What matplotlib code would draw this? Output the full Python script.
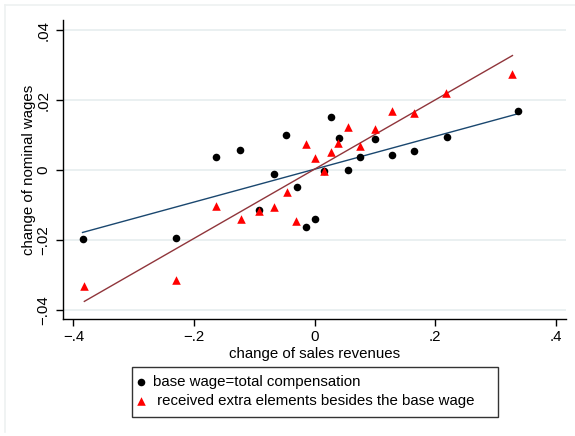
import numpy as np
import matplotlib
matplotlib.use("Agg")
import matplotlib.pyplot as plt
from matplotlib.lines import Line2D
from matplotlib.patches import Rectangle

plt.rcParams['font.family'] = ['Liberation Sans', 'DejaVu Sans']

# firms where the base wage is the total compensation
base_x = [-0.385, -0.2305, -0.164, -0.124, -0.093, -0.068, -0.048, -0.030, -0.015, 0.001,
          0.0154, 0.0265, 0.040, 0.056, 0.0756, 0.0995, 0.128, 0.164, 0.219, 0.338]
base_y = [-0.0198, -0.0193, 0.0037, 0.0057, -0.0114, -0.0011, 0.0101, -0.0048, -0.0162, -0.0141,
          -0.0004, 0.0151, 0.0091, 0.0000, 0.0036, 0.0089, 0.0042, 0.0054, 0.0095, 0.0168]

# firms paying extra elements on top of the base wage
extra_x = [-0.382, -0.2295, -0.163, -0.1227, -0.093, -0.068, -0.046, -0.0305, -0.015, 0.0005,
           0.0154, 0.0265, 0.039, 0.056, 0.0756, 0.0995, 0.128, 0.164, 0.217, 0.328]
extra_y = [-0.0331, -0.0314, -0.0102, -0.0141, -0.0117, -0.0107, -0.0064, -0.0145, 0.0075, 0.0034,
           -0.0002, 0.0051, 0.0078, 0.0124, 0.0069, 0.0118, 0.0169, 0.0163, 0.0219, 0.0274]

x_ticks = [-0.4, -0.2, 0.0, 0.2, 0.4]
x_labels = ["\u2212.4", "\u2212.2", "0", ".2", ".4"]
y_ticks = [-0.04, -0.02, 0.0, 0.02, 0.04]
y_labels = ["\u2212.04", "\u2212.02", "0", ".02", ".04"]

labels = ["base wage=total compensation", " received extra elements besides the base wage"]

FS = 10.8
W, H = 575, 436
fig = plt.figure(figsize=(W / 100, H / 100), dpi=100)
fig.patch.set_facecolor("white")

# faint outer frame of the graph region
frame_c = "#eef1f1"
fig.add_artist(Line2D([5 / W, 5 / W], [1 - 5 / H, 1 - 432 / H], color=frame_c, lw=1.2))
fig.add_artist(Line2D([5 / W, 1.0], [1 - 5 / H, 1 - 5 / H], color=frame_c, lw=1.2))

ax = fig.add_axes([63 / W, 1 - 319 / H, 503 / W, 299 / H])
ax.set_xlim(-0.4174, 0.4168)
ax.set_ylim(-0.04257, 0.04286)

for yv in y_ticks:
    ax.axhline(yv, color="#eaf0f1", lw=1.4, zorder=0)

def linear_fit(xs, ys):
    xs = np.asarray(xs)
    b, a = np.polyfit(xs, np.asarray(ys), 1)
    xx = np.array([xs.min(), xs.max()])
    return xx, a + b * xx

fx, fy = linear_fit(base_x, base_y)
ax.plot(fx, fy, color="#1a476f", lw=1.0, zorder=2)
fx, fy = linear_fit(extra_x, extra_y)
ax.plot(fx, fy, color="#90353b", lw=1.0, zorder=2)

h1 = ax.scatter(base_x, base_y, s=30, color="black", marker="o", linewidths=0, zorder=3)
h2 = ax.scatter(extra_x, extra_y, s=38, color="#ff0000", marker="^", linewidths=0, zorder=3)

for side in ("top", "right"):
    ax.spines[side].set_visible(False)
for side in ("left", "bottom"):
    ax.spines[side].set_linewidth(1.0)
    ax.spines[side].set_color("black")

ax.set_xticks(x_ticks)
ax.set_xticklabels(x_labels, fontsize=FS)
ax.set_yticks(y_ticks)
ax.set_yticklabels(y_labels, fontsize=FS, rotation=90, va="center")
ax.tick_params(axis="both", direction="out", length=5, width=1.0, color="black", pad=3)
ax.tick_params(axis="y", pad=4)

ax.set_xlabel("change of sales revenues", fontsize=FS, labelpad=2)
ax.set_ylabel("change of nominal wages", fontsize=FS, labelpad=0)

# legend box below the plot
fig.add_artist(Rectangle((132 / W, 1 - 417 / H), 365.5 / W, 50 / H,
                         transform=fig.transFigure, fill=False,
                         edgecolor="#333333", lw=1.0))
leg = fig.legend([h1, h2], labels, loc="upper left",
                 bbox_to_anchor=(132 / W, 1 - 372 / H), fontsize=FS,
                 frameon=False, borderpad=0.2, handlelength=0.8,
                 handletextpad=0.4, labelspacing=0.33, borderaxespad=0,
                 scatterpoints=1)

fig.savefig("out.png", dpi=100, facecolor="white")
